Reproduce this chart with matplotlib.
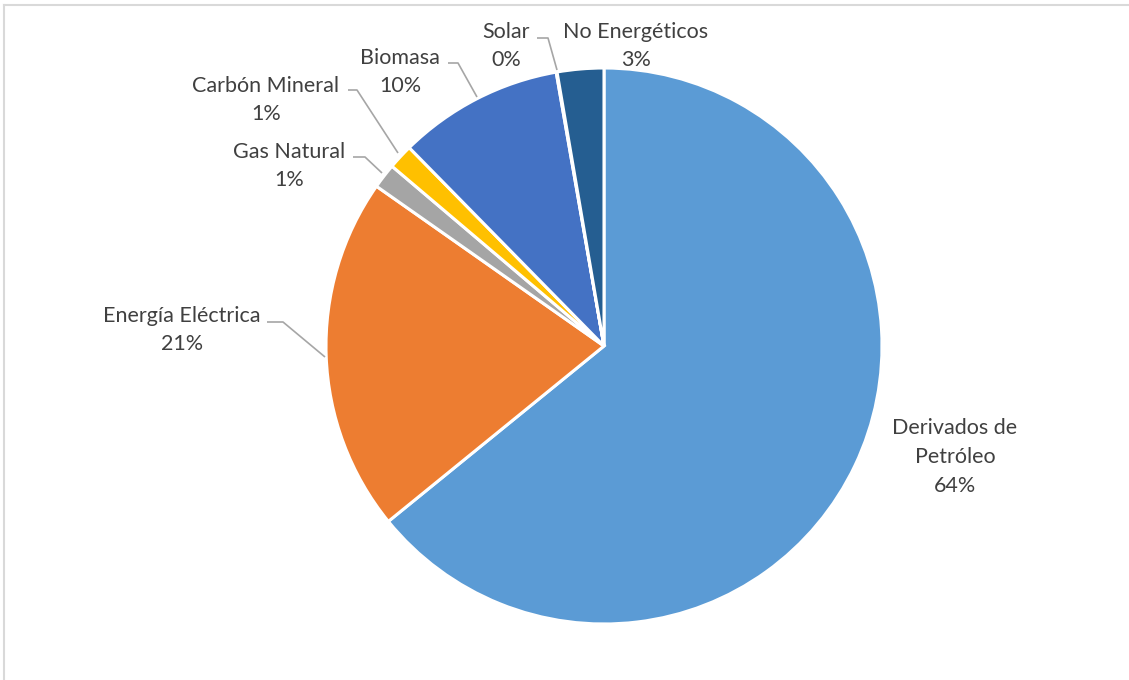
import matplotlib
matplotlib.use("Agg")
import matplotlib.pyplot as plt
from matplotlib.lines import Line2D

categories = ["Derivados de\nPetróleo", "Energía Eléctrica", "Gas Natural", "Carbón Mineral",
              "Biomasa", "Solar", "No Energéticos"]
values = [64.1, 20.6, 1.45, 1.45, 9.6, 0.05, 2.7]
colors = ["#5B9BD5", "#ED7D31", "#A5A5A5", "#FFC000", "#4472C4", "#70AD47", "#255E91"]

W, H = 1129, 680
fig = plt.figure(figsize=(W / 100, H / 100), dpi=100)
ax = fig.add_axes([0, 0, 1, 1])

def py(y):
    return H - y

cx, cy, r = 604, 346, 278
ax.pie(values, colors=colors, startangle=90, counterclock=False, radius=r,
       center=(cx, py(cy)), frame=True,
       wedgeprops=dict(edgecolor="white", linewidth=2.2))
ax.set_xlim(0, W)
ax.set_ylim(0, H)
ax.set_aspect("equal")
ax.axis("off")

total = sum(values)
pcts = [f"{round(v / total * 100)}%" for v in values]

label_pos = [(955, 457), (182, 330), (289, 166), (266, 100), (400, 72), (506, 46), (636, 46)]
leaders = [None,
           [(267, 322), (283, 322), (325, 357)],
           [(353, 157), (365, 157), (382, 173)],
           [(348, 90), (357, 90), (398, 153)],
           [(448, 63), (458, 63), (477, 97)],
           [(537, 38), (548, 38), (557, 70)],
           None]

tc = "#404040"
for cat, pct, (x, y), ld in zip(categories, pcts, label_pos, leaders):
    ax.text(x, py(y), f"{cat}\n{pct}", ha="center", va="center", fontsize=15.5,
            color=tc, family=["Lato", "DejaVu Sans"], linespacing=1.55)
    if ld:
        ax.plot([p[0] for p in ld], [py(p[1]) for p in ld], color="#A6A6A6", lw=1.2,
                solid_capstyle="butt")

# chart border (top and left visible)
fig.add_artist(Line2D([4 / W, 4 / W], [0, 1 - 5 / H], color="#D9D9D9", lw=1.5, transform=fig.transFigure))
fig.add_artist(Line2D([4 / W, 1], [1 - 5 / H, 1 - 5 / H], color="#D9D9D9", lw=1.5, transform=fig.transFigure))

fig.savefig("out.png", dpi=100, facecolor="white")
